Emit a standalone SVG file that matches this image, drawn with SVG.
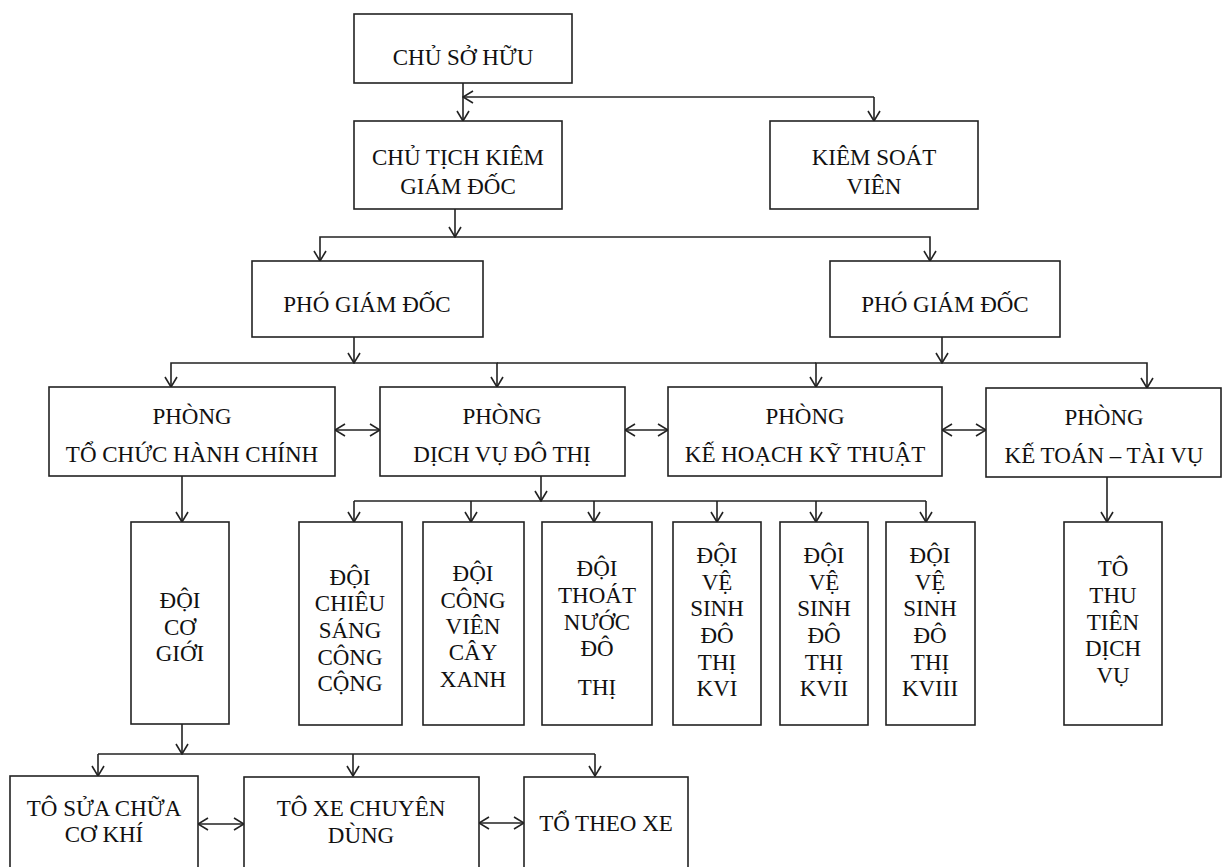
<svg xmlns="http://www.w3.org/2000/svg" width="1223" height="867" viewBox="0 0 1223 867">
<style>
.box{fill:#fff;stroke:#222;stroke-width:1.6}
.t{font-family:"Liberation Serif","Times New Roman",serif;font-size:23px;fill:#111;text-anchor:middle}
.c{fill:none;stroke:#222;stroke-width:1.6}
.a{marker-end:url(#ah)}
.d{marker-start:url(#ah);marker-end:url(#ah)}
</style>
<defs>
<marker id="ah" markerUnits="userSpaceOnUse" viewBox="0 0 12 14" refX="11" refY="7" markerWidth="12" markerHeight="14" orient="auto-start-reverse">
<path d="M1,1 L11,7 L1,13" fill="none" stroke="#222" stroke-width="1.6"/>
</marker>
</defs>
<rect width="1223" height="867" fill="#fff"/>
<g id="connectors">
<path class="c a" d="M463,83 V121"/>
<path class="c a" d="M874,97 H463"/>
<path class="c a" d="M874,97 V121"/>
<path class="c a" d="M455,209 V237"/>
<path class="c a" d="M455,237 H320 V261"/>
<path class="c a" d="M455,237 H930 V261"/>
<path class="c a" d="M354,337 V363"/>
<path class="c a" d="M354,363 H171 V387"/>
<path class="c a" d="M354,363 H497 V387"/>
<path class="c" d="M497,363 H816"/>
<path class="c a" d="M942,337 V363"/>
<path class="c a" d="M942,363 H816 V387"/>
<path class="c a" d="M942,363 H1147 V388"/>
<path class="c d" d="M335,430 H380"/>
<path class="c d" d="M625,430 H668"/>
<path class="c d" d="M942,430 H986"/>
<path class="c a" d="M182,476 V522"/>
<path class="c a" d="M541,476 V501"/>
<path class="c" d="M354,501 H926"/>
<path class="c a" d="M354,501 V522"/>
<path class="c a" d="M471,501 V522"/>
<path class="c a" d="M594,501 V522"/>
<path class="c a" d="M717,501 V522"/>
<path class="c a" d="M816,501 V522"/>
<path class="c a" d="M926,501 V522"/>
<path class="c a" d="M1107,477 V522"/>
<path class="c a" d="M182,724 V754"/>
<path class="c" d="M98,754 H595"/>
<path class="c a" d="M98,754 V776"/>
<path class="c a" d="M353,754 V776"/>
<path class="c a" d="M595,754 V776"/>
<path class="c d" d="M198,824 H244"/>
<path class="c d" d="M479,823 H524"/>
</g>
<g id="chu-so-huu"><rect class="box" x="354" y="14" width="218" height="69"/><text class="t" x="463" y="65">CHỦ SỞ HỮU</text></g>
<g id="chu-tich"><rect class="box" x="354" y="121" width="208" height="88"/><text class="t" x="458" y="165">CHỦ TỊCH KIÊM</text><text class="t" x="458" y="194">GIÁM ĐỐC</text></g>
<g id="kiem-soat"><rect class="box" x="770" y="121" width="208" height="88"/><text class="t" x="874" y="165">KIÊM SOÁT</text><text class="t" x="874" y="194">VIÊN</text></g>
<g id="pho-gd-1"><rect class="box" x="252" y="261" width="231" height="76"/><text class="t" x="367" y="312">PHÓ GIÁM ĐỐC</text></g>
<g id="pho-gd-2"><rect class="box" x="830" y="261" width="230" height="76"/><text class="t" x="945" y="312">PHÓ GIÁM ĐỐC</text></g>
<g id="phong-tchc"><rect class="box" x="49" y="387" width="286" height="89"/><text class="t" x="192" y="424">PHÒNG</text><text class="t" x="192" y="462">TỔ CHỨC HÀNH CHÍNH</text></g>
<g id="phong-dvdt"><rect class="box" x="380" y="387" width="245" height="89"/><text class="t" x="502" y="424">PHÒNG</text><text class="t" x="502" y="462">DỊCH VỤ ĐÔ THỊ</text></g>
<g id="phong-khkt"><rect class="box" x="668" y="387" width="274" height="89"/><text class="t" x="805" y="424">PHÒNG</text><text class="t" x="805" y="462">KẾ HOẠCH KỸ THUẬT</text></g>
<g id="phong-kttv"><rect class="box" x="986" y="388" width="235" height="89"/><text class="t" x="1104" y="425">PHÒNG</text><text class="t" x="1104" y="463">KẾ TOÁN – TÀI VỤ</text></g>
<g id="doi-co-gioi"><rect class="box" x="131" y="522" width="98" height="202"/><text class="t" x="180" y="608">ĐỘI</text><text class="t" x="180" y="635">CƠ</text><text class="t" x="180" y="661">GIỚI</text></g>
<g id="doi-chieu-sang"><rect class="box" x="299" y="522" width="103" height="203"/><text class="t" x="350" y="585">ĐỘI</text><text class="t" x="350" y="611">CHIÊU</text><text class="t" x="350" y="638">SÁNG</text><text class="t" x="350" y="665">CÔNG</text><text class="t" x="350" y="691">CỘNG</text></g>
<g id="doi-cong-vien"><rect class="box" x="423" y="522" width="101" height="203"/><text class="t" x="473" y="581">ĐỘI</text><text class="t" x="473" y="608">CÔNG</text><text class="t" x="473" y="634">VIÊN</text><text class="t" x="473" y="660">CÂY</text><text class="t" x="473" y="687">XANH</text></g>
<g id="doi-thoat-nuoc"><rect class="box" x="542" y="522" width="110" height="203"/><text class="t" x="597" y="576">ĐỘI</text><text class="t" x="597" y="603">THOÁT</text><text class="t" x="597" y="630">NƯỚC</text><text class="t" x="597" y="656">ĐÔ</text><text class="t" x="597" y="695">THỊ</text></g>
<g id="doi-kvi"><rect class="box" x="673" y="522" width="88" height="203"/><text class="t" x="717" y="563">ĐỘI</text><text class="t" x="717" y="590">VỆ</text><text class="t" x="717" y="616">SINH</text><text class="t" x="717" y="643">ĐÔ</text><text class="t" x="717" y="670">THỊ</text><text class="t" x="717" y="696">KVI</text></g>
<g id="doi-kvii"><rect class="box" x="780" y="522" width="88" height="203"/><text class="t" x="824" y="563">ĐỘI</text><text class="t" x="824" y="590">VỆ</text><text class="t" x="824" y="616">SINH</text><text class="t" x="824" y="643">ĐÔ</text><text class="t" x="824" y="670">THỊ</text><text class="t" x="824" y="696">KVII</text></g>
<g id="doi-kviii"><rect class="box" x="886" y="522" width="89" height="203"/><text class="t" x="930" y="563">ĐỘI</text><text class="t" x="930" y="590">VỆ</text><text class="t" x="930" y="616">SINH</text><text class="t" x="930" y="643">ĐÔ</text><text class="t" x="930" y="670">THỊ</text><text class="t" x="930" y="696">KVIII</text></g>
<g id="to-thu-tien"><rect class="box" x="1064" y="522" width="98" height="203"/><text class="t" x="1113" y="576">TÔ</text><text class="t" x="1113" y="603">THU</text><text class="t" x="1113" y="630">TIÊN</text><text class="t" x="1113" y="656">DỊCH</text><text class="t" x="1113" y="683">VỤ</text></g>
<g id="to-sua-chua"><rect class="box" x="10" y="776" width="188" height="110"/><text class="t" x="104" y="816">TÔ SỬA CHỮA</text><text class="t" x="104" y="842">CƠ KHÍ</text></g>
<g id="to-xe-chuyen-dung"><rect class="box" x="244" y="777" width="235" height="110"/><text class="t" x="361" y="816">TÔ XE CHUYÊN</text><text class="t" x="361" y="843">DÙNG</text></g>
<g id="to-theo-xe"><rect class="box" x="524" y="777" width="164" height="110"/><text class="t" x="606" y="831">TỔ THEO XE</text></g>
</svg>
